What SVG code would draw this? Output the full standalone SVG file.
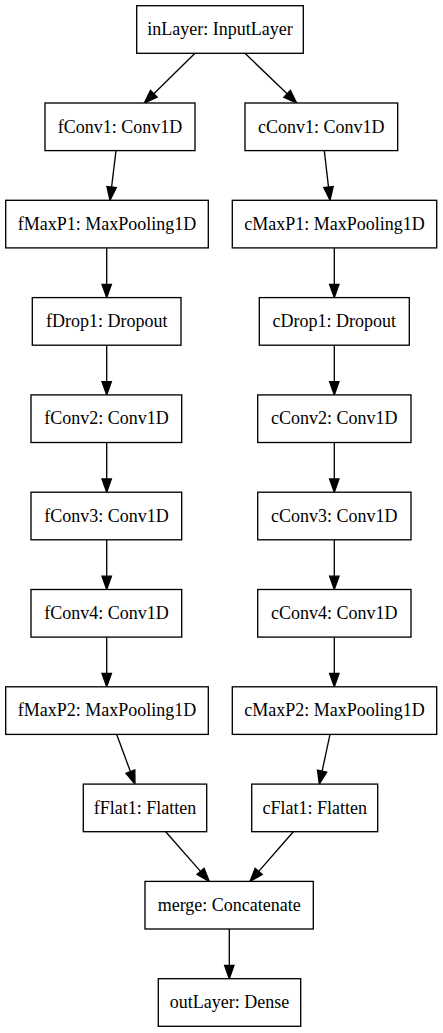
<svg xmlns="http://www.w3.org/2000/svg" width="443" height="1033" viewBox="0 0 443 1033">
<defs>
<style>
.n rect{fill:#fff;stroke:#000;stroke-width:1.33}
.n text{font-family:"Liberation Serif","Times New Roman",serif;font-size:18px;text-anchor:middle;fill:#000}
#edges line{stroke:#000;stroke-width:1.33;marker-end:url(#ah)}
</style>
<marker id="ah" markerUnits="userSpaceOnUse" markerWidth="16" markerHeight="12" refX="0" refY="0" viewBox="-1 -6 16 12" orient="auto" overflow="visible">
<path d="M0,-4.7 L13.3,0 L0,4.7 Z" fill="#000" stroke="#000" stroke-width="1.33"/>
</marker>
</defs>
<rect width="443" height="1033" fill="#fff"/>
<g id="edges">
<line x1="195" y1="53.3" x2="153.8" y2="93.7"/>
<line x1="245" y1="53.3" x2="287.1" y2="93.8"/>
<line x1="116" y1="150.6" x2="111.6" y2="187.1"/>
<line x1="324.3" y1="150.6" x2="328.5" y2="187.1"/>
<line x1="106.7" y1="247.9" x2="106.7" y2="284.3"/>
<line x1="334.3" y1="247.9" x2="334.3" y2="284.3"/>
<line x1="106.7" y1="345.2" x2="106.7" y2="381.6"/>
<line x1="334.3" y1="345.2" x2="334.3" y2="381.6"/>
<line x1="106.7" y1="442.5" x2="106.7" y2="478.9"/>
<line x1="334.3" y1="442.5" x2="334.3" y2="478.9"/>
<line x1="106.7" y1="539.8" x2="106.7" y2="576.2"/>
<line x1="334.3" y1="539.8" x2="334.3" y2="576.2"/>
<line x1="106.7" y1="637.1" x2="106.7" y2="673.5"/>
<line x1="334.3" y1="637.1" x2="334.3" y2="673.5"/>
<line x1="116.7" y1="734.4" x2="130.4" y2="771.6"/>
<line x1="330" y1="734.4" x2="322.1" y2="771.1"/>
<line x1="165.7" y1="831.7" x2="200.5" y2="871.4"/>
<line x1="293.3" y1="831.7" x2="258.7" y2="871.4"/>
<line x1="229.3" y1="929" x2="229.3" y2="965.4"/>
</g>
<g id="inLayer" class="n"><rect x="136.7" y="5.7" width="166.6" height="47.6"/><text x="220" y="35.2">inLayer: InputLayer</text></g>
<g id="fConv1" class="n"><rect x="45" y="103" width="150" height="47.6"/><text x="120" y="132.5">fConv1: Conv1D</text></g>
<g id="cConv1" class="n"><rect x="245" y="103" width="152.7" height="47.6"/><text x="321.3" y="132.5">cConv1: Conv1D</text></g>
<g id="fMaxP1" class="n"><rect x="5.7" y="200.3" width="202.6" height="47.6"/><text x="107" y="229.8">fMaxP1: MaxPooling1D</text></g>
<g id="cMaxP1" class="n"><rect x="232.3" y="200.3" width="204.4" height="47.6"/><text x="334.5" y="229.8">cMaxP1: MaxPooling1D</text></g>
<g id="fDrop1" class="n"><rect x="32.3" y="297.6" width="148.7" height="47.6"/><text x="106.7" y="327.1">fDrop1: Dropout</text></g>
<g id="cDrop1" class="n"><rect x="259.3" y="297.6" width="150" height="47.6"/><text x="334.3" y="327.1">cDrop1: Dropout</text></g>
<g id="fConv2" class="n"><rect x="31" y="394.9" width="150.7" height="47.6"/><text x="106.4" y="424.4">fConv2: Conv1D</text></g>
<g id="cConv2" class="n"><rect x="257.7" y="394.9" width="153.3" height="47.6"/><text x="334.3" y="424.4">cConv2: Conv1D</text></g>
<g id="fConv3" class="n"><rect x="31" y="492.2" width="150.7" height="47.6"/><text x="106.4" y="521.7">fConv3: Conv1D</text></g>
<g id="cConv3" class="n"><rect x="257.7" y="492.2" width="153.3" height="47.6"/><text x="334.3" y="521.7">cConv3: Conv1D</text></g>
<g id="fConv4" class="n"><rect x="31" y="589.5" width="150.7" height="47.6"/><text x="106.4" y="619">fConv4: Conv1D</text></g>
<g id="cConv4" class="n"><rect x="257.7" y="589.5" width="153.3" height="47.6"/><text x="334.3" y="619">cConv4: Conv1D</text></g>
<g id="fMaxP2" class="n"><rect x="5.7" y="686.8" width="202.6" height="47.6"/><text x="107" y="716.3">fMaxP2: MaxPooling1D</text></g>
<g id="cMaxP2" class="n"><rect x="232.3" y="686.8" width="204.4" height="47.6"/><text x="334.5" y="716.3">cMaxP2: MaxPooling1D</text></g>
<g id="fFlat1" class="n"><rect x="83.3" y="784.1" width="123.4" height="47.6"/><text x="145" y="813.6">fFlat1: Flatten</text></g>
<g id="cFlat1" class="n"><rect x="251.7" y="784.1" width="126" height="47.6"/><text x="314.7" y="813.6">cFlat1: Flatten</text></g>
<g id="merge" class="n"><rect x="145" y="881.4" width="168.3" height="47.6"/><text x="229.2" y="910.9">merge: Concatenate</text></g>
<g id="outLayer" class="n"><rect x="158.3" y="978.7" width="142.4" height="47.6"/><text x="229.5" y="1008.2">outLayer: Dense</text></g>
</svg>
